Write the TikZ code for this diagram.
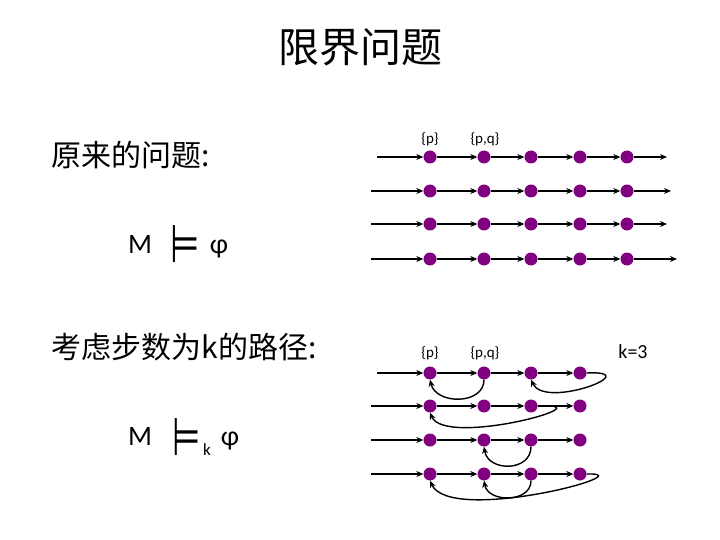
\documentclass[tikz,border=0pt]{standalone}
\usepackage{fontspec}
\usepackage{graphicx}
\setmainfont{Carlito}
\newfontfamily\cjk{Noto Sans CJK SC}
\newfontfamily\symfont{DejaVu Sans}
\usetikzlibrary{arrows.meta}
\definecolor{dotpurple}{RGB}{128,0,128}

\begin{document}
\begin{tikzpicture}[
    x=1pt, y=-1pt,
    >={Stealth[length=7pt, width=6pt]},
    dot/.style={circle, fill=dotpurple, inner sep=0pt, minimum size=13pt},
    arrow/.style={->, line width=1.4pt},
    setlabel/.style={font=\fontsize{15}{16}\selectfont},
    heading/.style={anchor=west, font=\cjk\fontsize{30}{32}\selectfont},
    formula/.style={anchor=base, inner sep=0pt, font=\fontsize{28}{30}\selectfont},
    models/.style={inner sep=0pt, font=\symfont\fontsize{24}{26}\selectfont},
]
\useasboundingbox (0,0) rectangle (720,540);

% Title
\node[font=\cjk\fontsize{41}{43}\selectfont] (title) at (360,47) {限界问题};

% Left column
\node[heading] (orig) at (48,155) {原来的问题:};
\node[formula] (m1) at (140,253) {M};
\node[models] (mod1) at (185,244) {\scalebox{1.4}[2.2]{⊨}};
\node[formula] (phi1) at (219,253) {φ};

\node[heading] (bound) at (48,347) {考虑步数为k的路径:};
\node[formula] (m2) at (140,445) {M};
\node[models] (mod2) at (187,437) {\scalebox{1.35}[2.2]{⊨}};
\node[formula, font=\fontsize{17}{18}\selectfont] (k2) at (207,455) {k};
\node[formula] (phi2) at (230,445) {φ};

% Upper paths
\foreach \r/\y in {1/157,2/191,3/224,4/259}
  \foreach \c/\x in {1/430,2/484,3/531,4/580,5/627}
    \node[dot] (t\r\c) at (\x,\y) {};
\node[setlabel] (tp) at (430,139) {\{p\}};
\node[setlabel] (tpq) at (485,139) {\{p,q\}};

\coordinate (ts1) at (377,157);
\coordinate (ts2) at (371,191);
\coordinate (ts3) at (371,224);
\coordinate (ts4) at (371,259);
\coordinate (te1) at (667,157);
\coordinate (te2) at (671,191);
\coordinate (te3) at (667,224);
\coordinate (te4) at (677,259);

\foreach \r in {1,...,4}{
  \draw[arrow] (ts\r) -- (t\r1);
  \foreach \c [count=\n from 2] in {1,...,4}
    \draw[arrow] (t\r\c) -- (t\r\n);
  \draw[arrow] (t\r5) -- (te\r);
}

% Lower paths (k=3)
\foreach \r/\y in {1/373,2/406,3/440,4/474}
  \foreach \c/\x in {1/430,2/484,3/531,4/580}
    \node[dot] (b\r\c) at (\x,\y) {};
\node[setlabel] (bp) at (430,353) {\{p\}};
\node[setlabel] (bpq) at (485,353) {\{p,q\}};
\node[font=\fontsize{20}{22}\selectfont] (kval) at (633,352) {k=3};

\coordinate (bs1) at (377,373);
\coordinate (bs2) at (371,406);
\coordinate (bs3) at (371,440);
\coordinate (bs4) at (371,474);

\foreach \r in {1,...,4}{
  \draw[arrow] (bs\r) -- (b\r1);
  \foreach \c [count=\n from 2] in {1,...,3}
    \draw[arrow] (b\r\c) -- (b\r\n);
}

% Back loops
\draw[arrow] (b12.south) .. controls (484,405) and (436,405) .. (b11.south);
\draw[arrow] (b14.east) .. controls (648,370) and (545,410) .. (b13.south);
\draw[arrow] (b23.east) .. controls (612,402) and (445,448) .. (b21.south);
\draw[arrow] (b33.south) .. controls (531,472) and (488,472) .. (b32.south);
\draw[arrow] (b43.south) .. controls (531,503) and (488,503) .. (b42.south);
\draw[arrow] (b44.east) .. controls (648,472) and (450,525) .. (b41.south);

\end{tikzpicture}
\end{document}
